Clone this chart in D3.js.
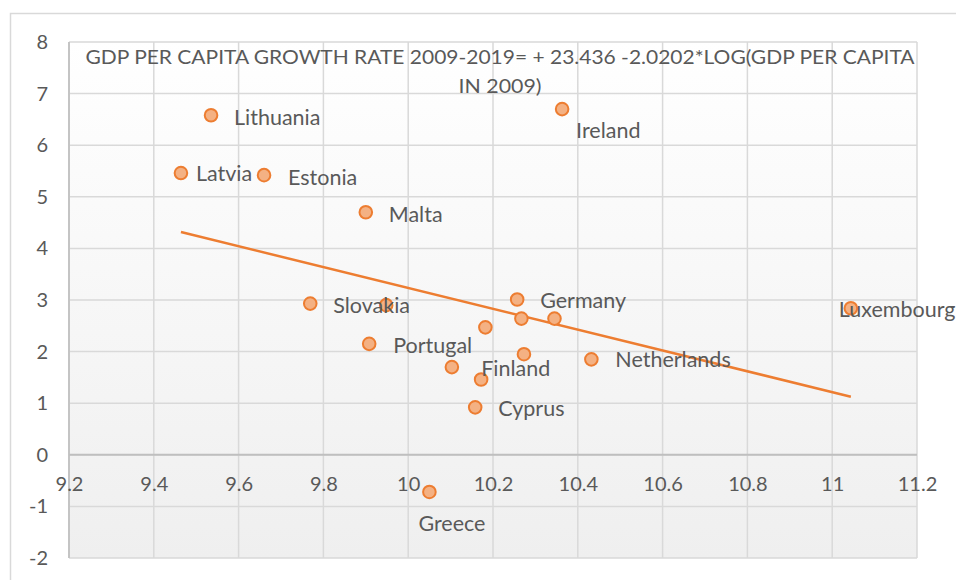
<!DOCTYPE html>
<html>
<head>
<meta charset="utf-8">
<script src="https://cdn.jsdelivr.net/npm/d3@7"></script>
<style>
  body { margin: 0; background: #fff; }
  svg { display: block; font-family: Lato, "Open Sans", sans-serif; }
</style>
</head>
<body>
<svg id="chart" width="956" height="580"></svg>
<script>
// log of GDP per capita in 2009 (x) vs growth rate 2009-2019 (y)
var countries = ["Lithuania", "Latvia", "Estonia", "Malta", "Ireland", "Slovakia", "Slovenia",
    "Portugal", "Spain", "Finland", "Cyprus", "Greece", "France", "Germany", "Belgium",
    "Austria", "Italy", "Netherlands", "Luxembourg"];
var logGdp = [9.535, 9.464, 9.660, 9.900, 10.363, 9.769, 9.948,
    9.908, 10.103, 10.172, 10.158, 10.050, 10.182, 10.257, 10.267,
    10.345, 10.273, 10.432, 11.044];
var growth = [6.58, 5.46, 5.42, 4.70, 6.70, 2.93, 2.90,
    2.15, 1.70, 1.46, 0.92, -0.72, 2.47, 3.01, 2.64,
    2.64, 1.95, 1.85, 2.84];
// countries that carry a label on the chart
var labelled = ["Lithuania", "Latvia", "Estonia", "Malta", "Ireland", "Slovakia", "Portugal",
    "Finland", "Cyprus", "Greece", "Germany", "Netherlands", "Luxembourg"];

var trendIntercept = 23.436;
var trendSlope = -2.0202;
var titleLines = ["GDP PER CAPITA GROWTH RATE 2009-2019= + 23.436 -2.0202*LOG(GDP PER CAPITA", "IN 2009)"];

// label offsets from the marker (layout only)
var labelOffset = {
    Lithuania: [23, 2], Latvia: [15, 0], Estonia: [24, 2], Malta: [23, 2],
    Ireland: [14, 21], Slovakia: [23, 2], Portugal: [24, 1], Finland: [0, -11],
    Cyprus: [23, 1], Greece: [-11, 31], Germany: [23, 1], Netherlands: [24, 0],
    Luxembourg: [-12, 1]
};

var data = countries.map(function (c, i) {
    return { name: c, x: logGdp[i], y: growth[i] };
});

var svg = d3.select("#chart");
var textColor = "#595959";
var fmt = function (d) { return String(+d.toFixed(1)); };

var x = d3.scaleLinear().domain([9.2, 11.2]).range([69, 917]);
var y = d3.scaleLinear().domain([-2, 8]).range([558, 42]);

// outer chart frame (cut off at right and bottom)
svg.append("path")
    .attr("d", "M10.5,580 L10.5,13.5 L956,13.5")
    .attr("fill", "none")
    .attr("stroke", "#d9d9d9")
    .attr("stroke-width", 1.5);

var defs = svg.append("defs");
var grad = defs.append("linearGradient")
    .attr("id", "bg")
    .attr("x1", 0).attr("y1", 0).attr("x2", 0).attr("y2", 1);
grad.append("stop").attr("offset", "0%").attr("stop-color", "#ffffff");
grad.append("stop").attr("offset", "100%").attr("stop-color", "#efefef");

svg.append("rect")
    .attr("x", x(9.2)).attr("y", y(8))
    .attr("width", x(11.2) - x(9.2))
    .attr("height", y(-2) - y(8))
    .attr("fill", "url(#bg)");

// gridlines
var grid = svg.append("g").attr("stroke", "#d9d9d9").attr("stroke-width", 1.5);
grid.selectAll("line.v")
    .data(x.ticks(10))
    .enter()
    .append("line")
    .attr("x1", function (d) { return x(d); })
    .attr("x2", function (d) { return x(d); })
    .attr("y1", y(8))
    .attr("y2", y(-2));
grid.selectAll("line.h")
    .data(y.ticks(10))
    .enter()
    .append("line")
    .attr("x1", x(9.2))
    .attr("x2", x(11.2))
    .attr("y1", function (d) { return y(d); })
    .attr("y2", function (d) { return y(d); });

// axis lines
svg.append("line")
    .attr("x1", x(9.2)).attr("x2", x(9.2))
    .attr("y1", y(8)).attr("y2", y(-2))
    .attr("stroke", "#c4c4c4").attr("stroke-width", 2);
svg.append("line")
    .attr("x1", x(9.2)).attr("x2", x(11.2))
    .attr("y1", y(0)).attr("y2", y(0))
    .attr("stroke", "#bfbfbf").attr("stroke-width", 2);

// y axis labels
var yAxis = svg.append("g")
    .attr("transform", "translate(" + x(9.2) + ",0)")
    .call(d3.axisLeft(y).ticks(10).tickSize(0).tickPadding(21).tickFormat(fmt));
yAxis.select(".domain").remove();
yAxis.selectAll("text")
    .attr("fill", textColor)
    .style("font-size", "20px")
    .style("font-family", "Lato, sans-serif");

// x axis labels, crossing at zero
var xAxis = svg.append("g")
    .attr("transform", "translate(0," + y(0) + ")")
    .call(d3.axisBottom(x).ticks(10).tickSize(0).tickPadding(22).tickFormat(fmt));
xAxis.select(".domain").remove();
xAxis.selectAll("text")
    .attr("fill", textColor)
    .style("font-size", "20px")
    .style("font-family", "Lato, sans-serif");

// title
svg.append("text")
    .attr("x", 500).attr("y", 64)
    .attr("text-anchor", "middle")
    .attr("fill", textColor)
    .attr("textLength", 829)
    .attr("lengthAdjust", "spacingAndGlyphs")
    .style("font-size", "20px")
    .text(titleLines[0]);
svg.append("text")
    .attr("x", 500).attr("y", 93)
    .attr("text-anchor", "middle")
    .attr("fill", textColor)
    .attr("textLength", 83)
    .attr("lengthAdjust", "spacingAndGlyphs")
    .style("font-size", "20px")
    .text(titleLines[1]);

// trendline over the data range
var xExt = d3.extent(data, function (d) { return d.x; });
svg.append("line")
    .attr("x1", x(xExt[0]))
    .attr("y1", y(trendIntercept + trendSlope * xExt[0]))
    .attr("x2", x(xExt[1]))
    .attr("y2", y(trendIntercept + trendSlope * xExt[1]))
    .attr("stroke", "#ed7d31")
    .attr("stroke-width", 2.5);

// markers
svg.append("g")
    .selectAll("circle")
    .data(data)
    .enter()
    .append("circle")
    .attr("cx", function (d) { return x(d.x); })
    .attr("cy", function (d) { return y(d.y); })
    .attr("r", 6.3)
    .attr("fill", "#f4b183")
    .attr("stroke", "#ed7d31")
    .attr("stroke-width", 2);

// data labels
svg.append("g")
    .selectAll("text")
    .data(data.filter(function (d) { return labelled.indexOf(d.name) >= 0; }))
    .enter()
    .append("text")
    .attr("x", function (d) { return x(d.x) + labelOffset[d.name][0]; })
    .attr("y", function (d) { return y(d.y) + labelOffset[d.name][1]; })
    .attr("dy", "0.36em")
    .attr("fill", textColor)
    .style("font-size", "21.5px")
    .text(function (d) { return d.name; });
</script>
</body>
</html>
